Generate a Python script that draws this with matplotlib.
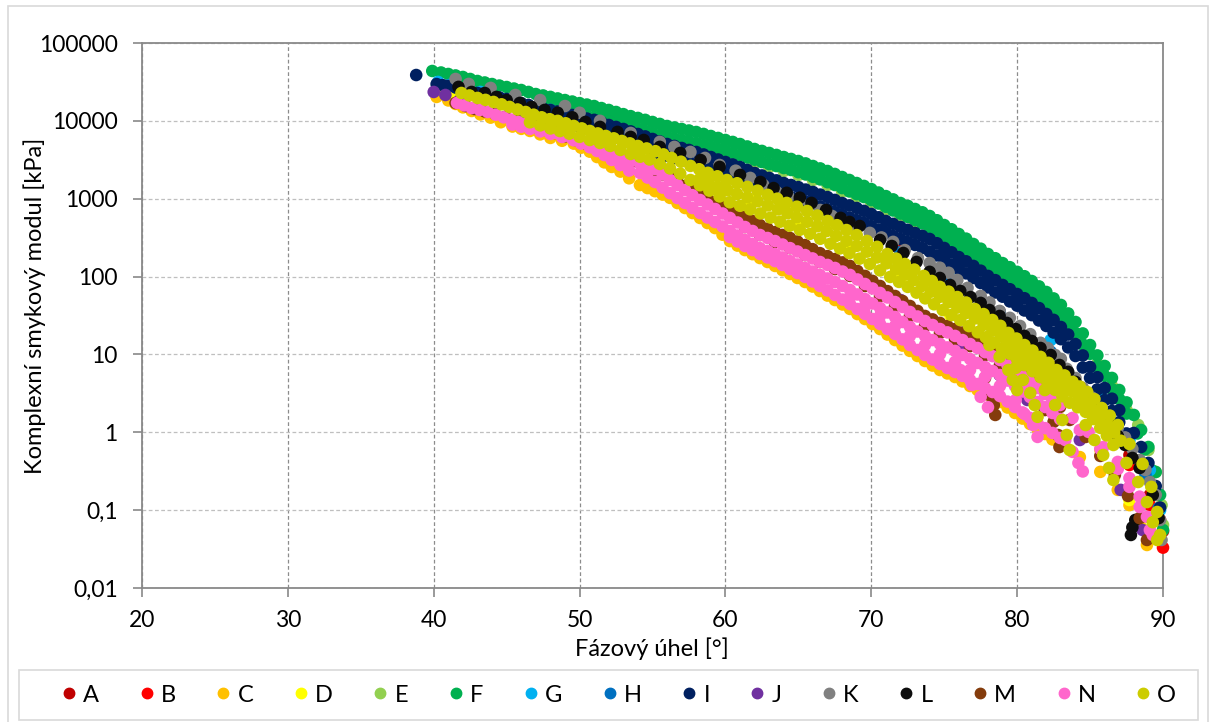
import matplotlib
matplotlib.use("Agg")
import matplotlib.pyplot as plt
from matplotlib.lines import Line2D
from matplotlib.patches import Rectangle

plt.rcParams["font.family"] = ["Lato", "DejaVu Sans"]

# Black diagram: phase angle [deg] vs complex shear modulus |G*| [kPa]
series_names = ["A", "B", "C", "D", "E", "F", "G", "H", "I", "J", "K", "L", "M", "N", "O"]
series_colors = ["#C00000", "#FF0000", "#FFC000", "#FFFF00", "#92D050", "#00B050", "#00B0F0",
                 "#0070C0", "#002060", "#7030A0", "#808080", "#0D0D0D", "#843C0C", "#FF66CC", "#CCCC00"]

A_points = [(41.1, 26500), (45.9, 16000), (51.4, 8850), (58.3, 3140), (65.1, 963), (72.0, 219),
            (78.8, 35.5), (82.9, 8.49), (85.7, 1.93), (87.7, 0.511), (89.1, 0.157), (89.8, 0.0748),
            (90.0, 0.0537)]

B_points = [(41.8, 24900), (47.3, 13800), (52.3, 10300), (53.5, 8850), (58.3, 2940), (65.1, 830),
            (72.0, 189), (78.8, 29.5), (82.9, 6.78), (85.7, 1.44), (87.7, 0.380), (89.1, 0.116),
            (90.0, 0.0330)]

C_points = [(40.2, 20300), (41.5, 16500), (42.6, 13400), (43.9, 11000), (45.4, 8450), (46.6, 7420),
            (48.0, 6040), (49.6, 5100), (50.7, 4020), (51.7, 2930), (52.8, 2230),
            (41.0, 18300), (42.0, 14900), (43.2, 12100), (44.6, 9600), (46.0, 7900), (47.3, 6700),
            (48.8, 5550), (50.1, 4520), (51.2, 3430), (52.2, 2560), (53.4, 1830),
            (54.14, 1500), (55.17, 1250), (56.20, 1025), (57.23, 760), (58.26, 566), (59.29, 420),
            (60.31, 286), (61.34, 219), (62.37, 173), (63.40, 137), (64.43, 108), (65.46, 85.2),
            (66.48, 65.3), (67.51, 50.0), (68.54, 38.4), (69.57, 28.5), (70.60, 21.2), (71.63, 15.3),
            (72.65, 11.1), (73.68, 8.24), (74.71, 6.31), (75.74, 5.13), (76.77, 3.93), (77.80, 3.10),
            (78.82, 2.45), (79.85, 1.77), (80.88, 1.28), (81.91, 0.951), (82.94, 0.687),
            (54.66, 1370), (55.69, 1130), (56.71, 880), (57.74, 655), (58.77, 487), (59.80, 345),
            (60.83, 250), (61.86, 194), (62.89, 154), (63.91, 121), (64.94, 96), (65.97, 74.5),
            (67.0, 57), (68.03, 43.8), (69.05, 33), (70.08, 24.6), (71.11, 18), (72.14, 13),
            (73.17, 9.55), (74.20, 7.2), (75.22, 5.7), (76.25, 4.5), (77.28, 3.5), (78.31, 2.75),
            (79.34, 2.08), (80.37, 1.5), (81.40, 1.1), (82.42, 0.81),
            (84.3, 0.48), (85.7, 0.31), (86.9, 0.182), (87.7, 0.116), (88.4, 0.0645), (88.9, 0.0357)]

D_points = [(40.4, 25700), (41.5, 22100), (43.2, 17000), (45.9, 11100), (48.7, 7630), (51.4, 5200),
            (54.8, 3140), (58.3, 1850), (61.7, 963), (65.1, 503), (68.5, 233), (72.0, 90.4),
            (75.4, 32.1), (78.8, 10.8), (82.3, 3.01), (85.7, 0.593), (87.7, 0.135), (88.8, 0.0556)]

E_points = [(46, 16900), (48, 16000), (50, 11500), (52, 9400), (54, 7410), (56, 5850), (58, 4750),
            (60, 3750), (62, 2880), (63, 2560), (64, 2270), (65, 2020), (66, 1740), (67, 1500),
            (68, 1240), (69, 1060), (70, 881), (71, 716), (72, 582), (73, 488), (74, 396), (75, 304),
            (76, 233), (77, 173), (78, 133), (79, 102), (80, 78.0), (81, 59.7), (82, 43.2),
            (83, 30.1), (84, 18.3), (85.5, 7.6), (86.5, 3.93), (87.5, 1.93), (88.3, 1.24),
            (89.0, 0.593), (89.5, 0.309), (89.9, 0.116), (90.0, 0.0645)]

F_points = [(39.9, 43700), (41, 40000), (42, 36600), (43, 32500), (44, 29700), (45, 27200),
            (46, 24900), (47, 22100), (48, 20300), (49, 18500), (50, 16900), (51, 15500),
            (52, 13800), (53, 12200), (54, 10900), (55, 9670), (56, 8590), (57, 7860), (58, 7190),
            (59, 6390), (60, 5680), (61, 5040), (62, 4350), (63, 3870), (64, 3430), (65, 3050),
            (66, 2630), (67, 2270), (68, 1900), (69, 1590), (70, 1330), (71, 1080), (72, 881),
            (73, 738), (74, 600), (75, 459), (76, 352), (77, 262), (78, 195), (79, 149), (80, 115),
            (81, 87.7), (81.5, 74.8), (82, 63.4), (82.5, 52.4), (83, 43.2), (83.5, 33.6),
            (84, 26.1), (84.5, 18.6), (85, 13.2), (85.5, 9.71), (86, 7.11), (86.5, 4.99),
            (87, 3.49), (87.5, 2.42), (88, 1.67), (88.5, 1.07), (89, 0.647), (89.5, 0.309),
            (89.8, 0.157), (90.0, 0.0556),
            (40.5, 41800), (41.5, 38300), (42.5, 34500), (43.5, 31100), (44.5, 28400), (45.5, 26000),
            (46.5, 23500), (47.5, 21200), (48.5, 19400), (49.5, 17700), (50.5, 16200), (51.5, 14600),
            (52.5, 13000), (53.5, 11500), (54.5, 10300), (55.5, 9130), (56.5, 8220), (57.5, 7520),
            (58.5, 6790), (59.5, 6030), (60.5, 5360), (61.5, 4690), (62.5, 4110), (63.5, 3650),
            (64.5, 3240), (65.5, 2840), (66.5, 2450), (67.5, 2080), (68.5, 1740), (69.5, 1460),
            (70.5, 1200), (71.5, 980), (72.5, 810), (73.5, 669), (74.5, 529), (75.5, 405),
            (76.5, 307), (77.5, 228), (78.5, 172), (79.5, 132), (80.5, 101),
            (47.5, 15300), (48.5, 14000), (49.5, 12800), (50.5, 11700), (51.5, 10600),
            (52.5, 9400), (53.5, 8350), (54.5, 7410), (55.5, 6580), (56.5, 5930), (57.5, 5430),
            (58.5, 4900), (59.5, 4350), (60.5, 3870), (61.5, 3380), (62.5, 2960), (63.5, 2630),
            (64.5, 2340), (65.5, 2050), (66.5, 1770), (67.5, 1500), (68.5, 1240), (69.5, 1050),
            (70.5, 868), (71.5, 706), (72.5, 582), (73.5, 481), (74.5, 379), (75.5, 291),
            (76.5, 219), (77.5, 163), (78.5, 123), (79.5, 94.4), (80.5, 72.4), (81.5, 53.9),
            (82.5, 37.8), (83.5, 24.2), (84.5, 13.4), (85.5, 7.00), (86.5, 3.59), (87.5, 1.74),
            (88.25, 0.966), (88.75, 0.601), (89.25, 0.323), (89.65, 0.161),
            (48, 14650), (49, 13400), (50, 12250), (51, 11150), (52, 10000), (53, 8880), (54, 7880),
            (55, 6990), (56, 6250), (57, 5680), (58, 5160), (59, 4620), (60, 4110), (61, 3620),
            (62, 3170), (63, 2790), (64, 2480), (65, 2190), (66, 1910), (67, 1630), (68, 1370),
            (69, 1145), (70, 960), (71, 787), (72, 644), (73, 531), (74, 430), (75, 335), (76, 255),
            (77, 191), (78, 143), (79, 109), (80, 83.4), (81, 63.2), (82, 45.9), (83, 31),
            (84, 18.8), (85, 10.2), (86, 5.3), (87, 2.67)]

G_points = [(40.3, 31600), (41.1, 28900), (43.2, 23500), (48.0, 13800), (54.8, 4900), (61.7, 1500),
            (68.5, 459), (75.4, 122), (82.3, 15.3), (85.7, 3.01), (87.7, 0.796), (89.1, 0.328),
            (89.8, 0.100)]

H_points = [(40.8, 28100), (42.5, 23500), (44.6, 17900), (48.0, 12300), (51.4, 7630), (54.8, 4760),
            (58.3, 2860), (60.1, 2210), (61.7, 1640), (65.1, 909), (68.5, 446), (72.0, 206),
            (75.5, 90.4), (78.8, 35.5), (82.3, 10.8), (85.0, 2.76), (87.1, 0.847), (88.8, 0.283),
            (89.7, 0.106)]

I_points = [(38.8, 38800), (40.2, 29700), (41, 28000), (42, 25700), (43, 22800), (44, 20900),
            (45, 19100), (46, 16900), (47, 15100), (48, 13800), (49, 12600), (50, 11200),
            (51, 10300), (52, 8850), (53, 7860), (54, 6780), (55, 5850), (56, 5040), (57, 4480),
            (58, 3980), (59, 3430), (60, 2960), (61, 2550), (62, 2140), (63, 1850), (64, 1590),
            (65, 1410), (66, 1220), (67, 1050), (68, 881), (69, 760), (70, 637), (71, 517),
            (72, 434), (73, 363), (74, 304), (75, 233), (76, 178), (77, 137), (78, 102), (79, 78.0),
            (80, 59.7), (81, 45.8), (82, 33.1), (83, 22.5), (84, 13.6), (85, 6.90), (86, 3.71),
            (87, 1.93), (88, 0.98), (88.5, 0.647), (89, 0.404), (89.5, 0.204), (89.8, 0.108),
            (40.6, 28800), (41.5, 26800), (42.5, 24200), (43.5, 21800), (44.5, 20000), (45.5, 18000),
            (46.5, 16000), (47.5, 14400), (48.5, 13200), (49.5, 11900), (50.5, 10700), (51.5, 9570),
            (52.5, 8350), (53.5, 7320), (54.5, 6310), (55.5, 5440), (56.5, 4760), (57.5, 4230),
            (58.5, 3700), (59.5, 3190), (60.5, 2750), (61.5, 2340), (62.5, 1990), (63.5, 1720),
            (64.5, 1500), (65.5, 1310), (66.5, 1130), (67.5, 965), (68.5, 820), (69.5, 698),
            (70.5, 577), (71.5, 475), (72.5, 398), (73.5, 333), (74.5, 268), (75.5, 205),
            (76.5, 157), (77.5, 119), (78.5, 90), (79.5, 68.8), (80.5, 52.7), (81.5, 39.4),
            (82.5, 27.8), (83.5, 18.0), (84.5, 9.7), (85.5, 5.1), (86.5, 2.7),
            (46.5, 12100), (47.5, 10800), (48.5, 9810), (49.5, 8850), (50.5, 7980), (51.5, 7100),
            (52.5, 6200), (53.5, 5440), (54.5, 4690), (55.5, 3780),
            (56.5, 3330), (57.5, 2960), (58.5, 2590), (59.5, 2240), (60.5, 1930), (61.5, 1640),
            (62.5, 1390), (63.5, 1200), (64.5, 1050), (65.5, 920), (66.5, 794), (67.5, 675),
            (68.5, 574), (69.5, 488), (70.5, 402), (71.5, 332), (72.5, 278), (73.5, 233),
            (74.5, 187), (75.5, 143), (76.5, 110), (77.5, 82.7), (78.5, 62.5), (79.5, 47.9),
            (80.5, 36.7), (81.5, 27.3), (82.5, 19.1), (83.5, 12.3), (84.5, 6.79), (85.5, 3.55),
            (86.5, 1.88), (87.5, 0.966),
            (47, 11450), (48, 10300), (49, 9330), (50, 8410), (51, 7540), (52, 6650), (53, 5820),
            (54, 5060), (55, 4240), (56, 3550), (57, 3140), (58, 2770), (59, 2410), (60, 2080),
            (61, 1780), (62, 1510), (63, 1290), (64, 1120), (65, 985), (66, 857), (67, 734),
            (68, 624), (69, 531), (70, 445), (71, 367), (72, 305), (73, 255), (74, 210), (75, 165),
            (76, 126), (77, 96), (78, 72.6), (79, 55.2), (80, 42.3), (81, 32), (82, 23.2),
            (83, 15.7), (84, 9.55), (85, 5.0), (86, 2.6), (87, 1.35)]

J_points = [(40.0, 23500), (40.8, 21500), (41.8, 18500), (45.9, 10300), (51.4, 4220), (58.3, 1120),
            (65.1, 254), (72.0, 50.0), (76.1, 13.2), (78.8, 5.44), (80.2, 3.30), (80.7, 2.60),
            (84.3, 0.796), (87.1, 0.182), (88.6, 0.0556)]

K_points = [(41.5, 34500), (42.4, 29800), (43.9, 26500), (45.6, 21500), (47.3, 18500), (49.0, 15500),
            (50.0, 12700), (51.4, 10000), (53.5, 7000), (55.5, 5370), (56.5, 4630), (57.6, 3990),
            (58.6, 3340), (59.6, 2710), (60.7, 2290), (61.7, 1850), (62.6, 1500), (63.5, 1220),
            (64.3, 1080), (65.1, 963), (65.8, 830), (66.5, 716), (67.3, 601), (68.2, 503),
            (69.0, 427), (69.9, 364), (70.7, 318), (71.5, 279), (72.3, 219), (73.2, 173),
            (74.0, 149), (74.7, 130), (75.3, 112), (75.9, 90.4), (76.6, 71.6), (77.5, 56.4),
            (78.1, 46.6), (78.8, 36.2), (79.5, 29.5), (80.2, 23.2), (80.9, 18.2), (81.6, 14.1),
            (82.1, 12.1), (82.6, 9.84), (83.0, 8.78), (83.4, 6.53), (84.0, 4.98), (84.5, 3.71),
            (85.1, 2.81), (85.7, 2.05), (86.2, 1.56), (86.9, 1.14), (87.4, 0.860), (87.9, 0.611),
            (88.4, 0.441), (88.8, 0.328), (89.1, 0.230), (89.5, 0.157), (89.8, 0.0748),
            (89.9, 0.0414)]

L_points = [(41.7, 27300), (42.6, 23500), (43.5, 22800), (44.3, 20300), (45.0, 18500), (45.9, 17000),
            (46.7, 15100), (47.6, 13800), (48.5, 12700), (49.5, 11100), (50.4, 9670), (51.4, 8360),
            (52.6, 7210), (53.5, 6220), (54.4, 5680), (55.5, 4630), (56.9, 3870), (58.3, 3140),
            (59.6, 2560), (61.0, 2020), (62.4, 1640), (63.3, 1370), (64.2, 1190), (65.1, 1030),
            (65.9, 883), (66.9, 716), (67.9, 567), (68.5, 503), (69.2, 446), (70.6, 295),
            (71.4, 247), (72.2, 201), (73.1, 154), (74.0, 115), (74.7, 96.0), (75.4, 78.0),
            (76.1, 65.4), (76.8, 54.6), (77.5, 45.9), (78.1, 37.2), (78.8, 31.2), (79.3, 25.4),
            (79.9, 21.2), (80.5, 17.3), (81.0, 14.9), (81.6, 12.1), (82.3, 9.84), (82.9, 7.32),
            (83.5, 5.97), (84.0, 4.44), (84.7, 3.20), (85.2, 2.24), (85.8, 1.67), (86.4, 1.24),
            (86.9, 0.897), (87.4, 0.687), (87.9, 0.468), (88.4, 0.348), (89.3, 0.157),
            (89.7, 0.079), (87.8, 0.048), (87.9, 0.060), (88.1, 0.0748)]

M_points = [(41.5, 17000), (42.8, 14200), (44.2, 12300), (45.6, 10300), (46.9, 8360), (48.3, 7000),
            (49.7, 5680), (51.1, 4630), (52.4, 3760), (53.8, 3050),
            (42.2, 15500), (43.5, 13200), (44.9, 11300), (46.3, 9280), (47.6, 7650), (49.0, 6310),
            (50.4, 5130), (51.8, 4170), (53.1, 3390),
            (54.14, 2870), (55.17, 2270), (56.20, 1850), (57.23, 1460), (58.26, 1150), (59.29, 908),
            (60.31, 716), (61.34, 583), (62.37, 459), (63.40, 373), (64.43, 313), (65.46, 254),
            (66.48, 200), (67.51, 168), (68.54, 137), (69.57, 102), (70.60, 75.7), (71.63, 56.3),
            (72.65, 41.9), (73.68, 31.2), (74.71, 25.4), (75.74, 21.2), (76.77, 17.3), (77.80, 13.2),
            (78.82, 9.84), (79.85, 7.11), (80.88, 5.13), (81.91, 3.60), (82.94, 2.11),
            (54.66, 2550), (55.69, 2050), (56.71, 1640), (57.74, 1300), (58.77, 1020), (59.80, 805),
            (60.83, 645), (61.86, 517), (62.89, 413), (63.91, 342), (64.94, 282), (65.97, 225),
            (67.0, 183), (68.03, 152), (69.05, 118), (70.08, 88), (71.11, 65), (72.14, 48.6),
            (73.17, 36.2), (74.20, 28.2), (75.22, 23.2), (76.25, 19.1), (77.28, 15.1), (78.31, 11.4),
            (79.34, 8.4), (80.37, 6.0), (81.40, 4.3), (82.42, 2.75),
            (61.34, 433), (62.37, 342), (63.40, 278), (64.43, 232), (65.46, 189), (66.48, 154),
            (67.51, 125), (68.54, 102), (69.57, 75.7), (70.60, 56.3), (71.63, 41.9), (72.65, 31.2),
            (73.68, 23.2), (74.71, 18.9), (75.74, 15.8), (76.77, 12.8), (77.80, 9.84), (78.82, 7.32),
            (83.6, 1.44), (84.7, 0.872), (85.7, 0.497), (86.7, 0.283), (87.6, 0.152), (88.4, 0.079),
            (88.9, 0.0414),
            (77.8, 4.99), (78.1, 3.01), (78.4, 2.24), (78.5, 1.67),
            (81.9, 1.93), (82.5, 1.36), (82.8, 0.923), (82.9, 0.647)]

N_points = [(41.6, 17000), (42.6, 14600), (43.7, 13000), (44.8, 11100), (45.8, 9670), (46.8, 8610),
            (47.8, 7420), (48.9, 6580), (49.9, 5680), (50.9, 4760), (52.0, 3990), (53.0, 3340),
            (42.1, 15800), (43.15, 13800), (44.25, 12000), (45.3, 10400), (46.3, 9140), (47.3, 8020),
            (48.35, 7000), (49.4, 6130), (50.4, 5220), (51.45, 4380), (52.5, 3670), (53.5, 3070),
            (54.14, 2800), (55.17, 2410), (56.20, 1740), (57.23, 1290), (58.26, 963), (59.29, 738),
            (60.31, 566), (61.34, 433), (62.37, 342), (63.40, 286), (64.43, 232), (65.46, 189),
            (66.48, 154), (67.51, 129), (68.54, 105), (69.57, 80.3), (70.60, 61.6), (71.63, 47.1),
            (72.65, 35.1), (73.68, 26.9), (74.71, 21.2), (75.74, 17.3), (76.77, 13.6), (77.80, 10.7),
            (78.82, 8.49), (79.85, 6.13), (80.88, 4.43), (81.91, 3.10), (82.94, 2.24),
            (54.66, 2500), (55.69, 2050), (56.71, 1500), (57.74, 1110), (58.77, 843), (59.80, 646),
            (60.83, 495), (61.86, 385), (62.89, 313), (63.91, 258), (64.94, 210), (65.97, 171),
            (67.0, 141), (68.03, 116), (69.05, 91.8), (70.08, 70.3), (71.11, 53.9), (72.14, 40.7),
            (73.17, 30.7), (74.20, 23.9), (75.22, 19.2), (76.25, 15.3), (77.28, 12.1), (78.31, 9.5),
            (79.34, 7.2), (80.37, 5.2), (81.40, 3.7), (82.42, 2.6),
            (83.8, 1.53), (84.9, 1.01), (85.9, 0.647), (86.9, 0.416), (87.7, 0.258), (88.4, 0.149),
            (88.9, 0.082), (89.3, 0.048),
            (45.4, 8960), (46.6, 7880), (48.0, 6790), (49.6, 5630), (50.7, 4580), (51.7, 3640),
            (52.8, 2710), (46.0, 8400), (47.3, 7320), (48.8, 6200), (50.1, 5100), (51.2, 4100),
            (52.2, 3150), (53.4, 2300),
            (54.14, 2140), (55.17, 1640), (56.20, 1180), (57.23, 881), (58.26, 655), (59.29, 502),
            (60.31, 385), (61.34, 295), (62.37, 232), (63.40, 195), (64.43, 158), (65.46, 129),
            (66.48, 105), (67.51, 85.2), (68.54, 67.3), (69.57, 51.5), (70.60, 39.5), (71.63, 30.3),
            (72.65, 22.5), (73.68, 17.3), (74.71, 13.6), (75.74, 11.1), (76.77, 8.74), (77.80, 6.90),
            (78.82, 5.44), (79.85, 3.93), (80.88, 2.84), (81.91, 2.11), (82.94, 1.48),
            (54.66, 1870), (55.69, 1390), (56.71, 1020), (57.74, 760), (58.77, 573), (59.80, 440),
            (60.83, 337), (61.86, 262), (62.89, 213), (63.91, 176), (64.94, 143), (65.97, 116),
            (67.0, 94.6), (68.03, 75.7), (69.05, 58.9), (70.08, 45.1), (71.11, 34.6), (72.14, 26.1),
            (73.17, 19.7), (74.20, 15.3), (75.22, 12.3), (76.25, 9.85), (77.28, 7.77), (78.31, 6.13),
            (79.34, 4.62), (80.37, 3.34), (81.40, 2.45), (82.42, 1.77),
            (84.3, 1.07), (85.7, 0.611), (86.9, 0.338), (87.7, 0.199), (88.4, 0.110), (89.1, 0.0556),
            (68.54, 54.7), (69.57, 41.9), (70.60, 31.2), (71.63, 23.2), (72.65, 17.3), (73.68, 13.2),
            (74.71, 10.1), (75.74, 8.0), (76.77, 6.31), (77.80, 5.13), (78.82, 3.93),
            (60.31, 322), (61.34, 247), (62.37, 195), (63.40, 158), (64.43, 125), (65.46, 99),
            (66.48, 75.7), (67.51, 58.0), (68.54, 44.4), (69.57, 33.1), (70.60, 24.6), (71.63, 18.3),
            (72.65, 13.2), (73.68, 9.84), (74.71, 7.54), (75.74, 5.95), (76.77, 4.70), (77.80, 3.71),
            (78.82, 2.92), (79.85, 2.11), (80.88, 1.53), (81.91, 1.13), (82.94, 0.845),
            (60.83, 282), (61.86, 219), (62.89, 176), (63.91, 141), (64.94, 111), (65.97, 86.6),
            (67.0, 66.3), (68.03, 50.7), (69.05, 38.3), (70.08, 28.5), (71.11, 21.2), (72.14, 15.6),
            (73.17, 11.4), (74.20, 8.6), (75.22, 6.7), (76.25, 5.3), (77.28, 4.17), (78.31, 3.29),
            (79.34, 2.48), (80.37, 1.80), (81.40, 1.31), (82.42, 0.98),
            (76.1, 6.31), (76.9, 4.05), (77.5, 2.85), (78.0, 2.10),
            (79.9, 2.60), (80.5, 1.72), (81.1, 1.24), (81.4, 0.872),
            (83.3, 0.796), (83.8, 0.560), (84.2, 0.404), (84.5, 0.314)]

O_points = [(41.9, 22800), (43.0, 19700), (44.1, 17500), (45.2, 15100), (46.3, 13000), (47.4, 11100),
            (48.5, 10000), (49.6, 8610), (50.7, 7420), (51.8, 6400), (52.9, 5520), (54.0, 4760),
            (55.2, 4080), (56.3, 3340), (57.6, 2640), (58.8, 2150), (60.1, 1740), (61.5, 1420),
            (62.9, 1120), (64.2, 883), (65.6, 696), (67.0, 518), (68.3, 396), (69.7, 287),
            (71.1, 195), (72.3, 145), (73.6, 102), (74.7, 73.7), (75.9, 54.6), (77.1, 38.3),
            (78.3, 27.7), (79.4, 18.9), (80.5, 13.2), (81.6, 9.30), (82.7, 6.31), (83.8, 4.44),
            (84.8, 3.30), (85.8, 2.05), (86.9, 1.24), (87.7, 0.707), (88.6, 0.392), (89.2, 0.199),
            (89.6, 0.0947), (89.8, 0.048),
            (42.45, 21200), (43.55, 18600), (44.65, 16300), (45.75, 14000), (46.85, 12000),
            (47.95, 10500), (49.05, 9300), (50.15, 8000), (51.25, 6900), (52.35, 5960), (53.45, 5140),
            (54.6, 4420), (55.75, 3710), (56.95, 2990), (58.2, 2390), (59.45, 1940), (60.8, 1580),
            (62.2, 1270), (63.55, 1000), (64.9, 790), (66.3, 607), (67.65, 457), (69.0, 341),
            (70.4, 241), (71.7, 170), (72.95, 123), (74.15, 87.8), (75.3, 64.1), (76.5, 46.4),
            (77.7, 33.0), (78.85, 23.3), (79.95, 16.0), (81.05, 11.2), (82.15, 7.8), (83.25, 5.37),
            (84.3, 3.87), (85.3, 2.67), (86.35, 1.64),
            (58.2, 1750), (59.5, 1420), (60.8, 1150), (62.2, 927), (63.6, 730), (64.9, 577),
            (66.3, 443), (67.6, 334), (69.0, 248), (70.4, 176), (71.7, 124), (72.9, 90), (74.1, 64),
            (75.3, 47), (76.5, 34), (77.7, 24), (78.9, 17), (80.0, 11.7), (81.0, 8.2), (82.1, 5.7),
            (83.2, 3.9), (84.2, 2.9), (85.2, 1.95), (86.2, 1.25), (87.1, 0.78),
            (58.85, 1580), (60.15, 1280), (61.5, 1040), (62.9, 820), (64.25, 650), (65.6, 506),
            (66.95, 385), (68.3, 288), (69.7, 209), (71.05, 148), (72.3, 106), (73.5, 76),
            (74.7, 55), (75.9, 40), (77.1, 29), (78.3, 20.2), (79.45, 14.1), (80.5, 9.8),
            (81.55, 6.8), (82.65, 4.7), (83.7, 3.4), (84.7, 2.4), (85.7, 1.57), (86.65, 0.99),
            (46.6, 9580), (48.0, 7990), (49.3, 6840), (50.7, 5680), (52.1, 4760), (53.5, 3760),
            (54.8, 3190), (56.2, 2450), (57.6, 1740), (58.9, 1270), (60.3, 900), (61.7, 731),
            (63.1, 572), (64.4, 450), (65.8, 354), (67.2, 264), (68.5, 200), (69.9, 145),
            (71.3, 99), (72.5, 73.7), (73.7, 52.5), (74.9, 37.1), (76.1, 27.6), (77.3, 19.3),
            (78.4, 14.2), (79.5, 10.2), (80.5, 7.3), (81.6, 5.1), (82.6, 3.5), (83.6, 2.4),
            (84.7, 1.83), (85.7, 1.14), (86.6, 0.687), (87.5, 0.404), (88.3, 0.230), (88.9, 0.127),
            (89.3, 0.070), (89.6, 0.0414),
            (47.3, 8750), (48.65, 7400), (50.0, 6230), (51.4, 5200), (52.8, 4230), (54.15, 3460),
            (55.5, 2800), (56.9, 2100), (58.25, 1490), (59.6, 1070), (61.0, 811), (62.4, 647),
            (63.75, 507), (65.1, 399), (66.5, 306), (67.85, 230), (69.2, 170), (70.6, 120),
            (71.9, 85.4), (73.1, 62.2), (74.3, 44.1), (75.5, 32), (76.7, 23.1), (77.85, 16.6),
            (78.95, 12.0), (80.0, 8.6), (81.05, 6.1), (82.1, 4.2), (83.1, 2.9), (84.15, 2.1),
            (85.2, 1.48), (86.15, 0.91),
            (78.1, 13.2), (78.8, 9.30), (79.4, 6.31), (79.7, 4.70), (80.0, 3.49),
            (79.9, 6.71), (80.4, 4.70), (80.9, 3.20), (81.2, 2.24), (81.4, 1.58),
            (81.9, 3.49), (82.6, 2.24), (83.1, 1.44), (83.4, 0.923), (83.6, 0.593),
            (84.7, 1.24), (85.3, 0.796), (85.9, 0.511), (86.3, 0.348), (86.6, 0.244)]

all_points = [A_points, B_points, C_points, D_points, E_points, F_points, G_points, H_points,
              I_points, J_points, K_points, L_points, M_points, N_points, O_points]

y_ticks = [0.01, 0.1, 1, 10, 100, 1000, 10000, 100000]
y_tick_labels = ["0,01", "0,1", "1", "10", "100", "1000", "10000", "100000"]
x_ticks = [20, 30, 40, 50, 60, 70, 80, 90]

W, H = 1214, 722
fig = plt.figure(figsize=(W / 100, H / 100), dpi=100)
fig.patch.set_facecolor("white")

# outer chart border
fig.add_artist(Rectangle((8 / W, -0.01), 1200 / W, (H - 6) / H + 0.01, transform=fig.transFigure,
                         fill=False, edgecolor="#D9D9D9", linewidth=1.2))

ax = fig.add_axes([142 / W, (H - 588) / H, (1163 - 142) / W, (588 - 43) / H])
ax.set_yscale("log")
ax.set_xlim(20, 90)
ax.set_ylim(0.01, 100000)
ax.set_axisbelow(True)

for i, (pts, col, name) in enumerate(zip(all_points, series_colors, series_names)):
    xs = [p[0] for p in pts]
    ys = [p[1] for p in pts]
    ax.scatter(xs, ys, s=82, color=col, edgecolors="none", zorder=3 + i, clip_on=False, label=name)

ax.set_yticks(y_ticks)
ax.set_yticklabels(y_tick_labels)
ax.yaxis.set_minor_locator(matplotlib.ticker.NullLocator())
ax.set_xticks(x_ticks)

ax.grid(True, axis="x", color="#8C8C8C", linestyle=(0, (3, 2)), linewidth=0.9)
ax.grid(True, axis="y", color="#BFBFBF", linestyle=(0, (3, 2)), linewidth=0.9)
for sp in ax.spines.values():
    sp.set_color("#898989")
    sp.set_linewidth(1.3)

ax.tick_params(axis="both", which="major", direction="out", length=6.5, width=1.2,
               color="#898989", labelsize=16.5, labelcolor="#000000")
ax.tick_params(axis="y", pad=11)
ax.tick_params(axis="x", pad=9)

fig.text(652 / W, 1 - 649 / H, "Fázový úhel [°]", ha="center", va="center", fontsize=17)
fig.text(35 / W, 1 - 306 / H, "Komplexní smykový modul [kPa]", ha="center", va="center",
         rotation=90, fontsize=17)

# legend frame and entries
fig.add_artist(Rectangle((19 / W, (H - 720) / H), (1198 - 19) / W, 50 / H, transform=fig.transFigure,
                         fill=False, edgecolor="#D9D9D9", linewidth=1.2))
handles = [Line2D([], [], linestyle="none", marker="o", markersize=7.5, markerfacecolor=c,
                  markeredgecolor=c) for c in series_colors]
fig.legend(handles, series_names, loc="center", bbox_to_anchor=(618 / W, (H - 695) / H),
           ncol=15, frameon=False, fontsize=17, handlelength=0.8, handletextpad=0.2,
           columnspacing=1.61, borderpad=0.2)

fig.savefig("out.png", dpi=100, facecolor="white")
